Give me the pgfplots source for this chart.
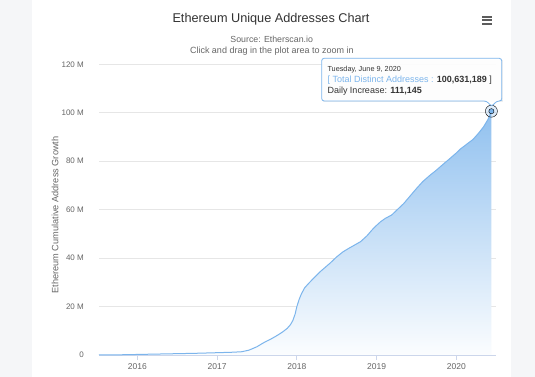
\documentclass[border=0pt]{standalone}
\usepackage{pgfplots}
\pgfplotsset{compat=1.18}
\usepackage{pgfplotstable}
\usepackage{fontspec}
\setmainfont{Liberation Sans}
\definecolor{bgGray}{HTML}{F5F6F8}
\definecolor{hcBlue}{HTML}{7CB5EC}
\definecolor{txtDark}{HTML}{333333}
\definecolor{txtGray}{HTML}{666666}
\definecolor{gridGray}{HTML}{E6E6E6}
\definecolor{axisCol}{HTML}{CCD6EB}
\pgfplotstableread{
year value
2015.52 0.00
2015.70 0.05
2015.85 0.12
2016.00 0.22
2016.30 0.42
2016.50 0.55
2016.73 0.70
2017.00 0.95
2017.20 1.15
2017.31 1.35
2017.40 2.00
2017.50 3.40
2017.57 4.80
2017.62 5.70
2017.67 6.50
2017.73 7.60
2017.78 8.60
2017.83 9.70
2017.88 11.00
2017.92 12.50
2017.95 14.20
2017.98 17.00
2018.00 19.90
2018.03 23.00
2018.06 25.40
2018.10 27.80
2018.15 29.60
2018.22 32.00
2018.29 34.30
2018.35 36.00
2018.42 38.00
2018.50 40.50
2018.58 42.60
2018.65 44.00
2018.72 45.30
2018.80 46.80
2018.88 49.20
2018.94 51.50
2018.98 52.90
2019.05 55.00
2019.11 56.40
2019.19 57.80
2019.26 60.00
2019.34 62.50
2019.42 65.60
2019.50 68.70
2019.58 71.60
2019.67 74.20
2019.75 76.30
2019.83 78.60
2019.92 81.10
2020.00 83.40
2020.05 85.00
2020.13 87.00
2020.21 89.00
2020.28 91.60
2020.34 94.10
2020.40 97.40
2020.44 100.63
}\addressdata
\begin{document}
\begin{tikzpicture}[x=1pt,y=1pt]
\fill[bgGray] (0,0) rectangle (535,377);
\fill[white] (32,0) rectangle (511,377);
% title
\node[anchor=base, font=\fontsize{12.7}{14}\selectfont, text=txtDark, inner sep=0pt] at (271,354.3) {Ethereum Unique Addresses Chart};
\node[anchor=base, font=\fontsize{8.8}{10}\selectfont, text=txtGray, inner sep=0pt] at (271.7,334) {Source: Etherscan.io};
\node[anchor=base, font=\fontsize{9}{10}\selectfont, text=txtGray, inner sep=0pt] at (271.8,323.7) {Click and drag in the plot area to zoom in};
% menu icon
\draw[txtGray!90!black, line width=2pt] (482.3,360.3) -- (492.3,360.3);
\draw[txtGray!90!black, line width=2pt] (482.3,356.5) -- (492.3,356.5);
\draw[txtGray!90!black, line width=2pt] (482.3,352.7) -- (492.3,352.7);
\begin{axis}[
  at={(99pt,22pt)}, anchor=south west,
  scale only axis, width=396.7pt, height=290.7pt,
  xmin=2015.52, xmax=2020.494, ymin=0, ymax=120,
  axis x line*=bottom, axis y line*=left,
  x axis line style={-, draw=axisCol, line width=0.8pt},
  y axis line style={draw=none},
  xtick={2016,2017,2018,2019,2020},
  xticklabels={2016,2017,2018,2019,2020},
  ytick={0,20,40,60,80,100,120},
  yticklabels={0,20 M,40 M,60 M,80 M,100 M,120 M},
  tick align=outside,
  major tick length=5pt,
  xtick style={draw=axisCol, line width=0.8pt},
  ytick style={draw=none},
  ymajorgrids,
  grid style={draw=gridGray, line width=0.8pt},
  xticklabel style={font=\fontsize{8.5}{10}\selectfont, text=txtGray, inner sep=0pt, anchor=north, yshift=-3pt},
  yticklabel style={font=\fontsize{8}{10}\selectfont, text=txtGray, inner sep=0pt, anchor=east, xshift=-10pt},
  ylabel={Ethereum Cumulative Address Growth},
  every axis y label/.style={at={(axis description cs:-0.111,0.4816)}, rotate=90, anchor=center, font=\fontsize{9.2}{10}\selectfont, text=txtGray},
  clip=false,
]
\addplot[draw=none, top color=hcBlue!84!white, bottom color=hcBlue!3!white] table[x=year,y=value] {\addressdata} \closedcycle;
\addplot[hcBlue, line width=1pt] table[x=year,y=value] {\addressdata};
\addplot[only marks, mark=*, mark size=6pt, mark options={draw=none, fill=hcBlue, fill opacity=0.25}] coordinates {(2020.44,100.63)};
\addplot[only marks, mark=*, mark size=2.6pt, mark options={draw=none, fill=hcBlue}] coordinates {(2020.44,100.63)};
\end{axis}
% tooltip
\fill[black, opacity=0.06] (323.2,274.5) rectangle (503.2,317.2);
\draw[hcBlue, line width=0.8pt, fill=white, fill opacity=0.92, rounded corners=2.5pt] (321.7,276) -- (486.5,276) -- (491.7,270.5) -- (496.8,276) -- (501.7,276) -- (501.7,318.7) -- (321.7,318.7) -- cycle;
\node[anchor=base west, inner sep=0pt, font=\fontsize{7.3}{8}\selectfont, text=txtDark] at (327.3,305.3) {Tuesday, June 9, 2020};
\node[anchor=base west, inner sep=0pt, font=\fontsize{9}{10}\selectfont, text=txtDark] at (327.3,294.7) {\textcolor{hcBlue}{[ Total Distinct Addresses : }\textbf{100,631,189} ]};
\node[anchor=base west, inner sep=0pt, font=\fontsize{9}{10}\selectfont, text=txtDark] at (327.3,283.7) {Daily Increase: \textbf{111,145}};
\end{tikzpicture}
\end{document}
